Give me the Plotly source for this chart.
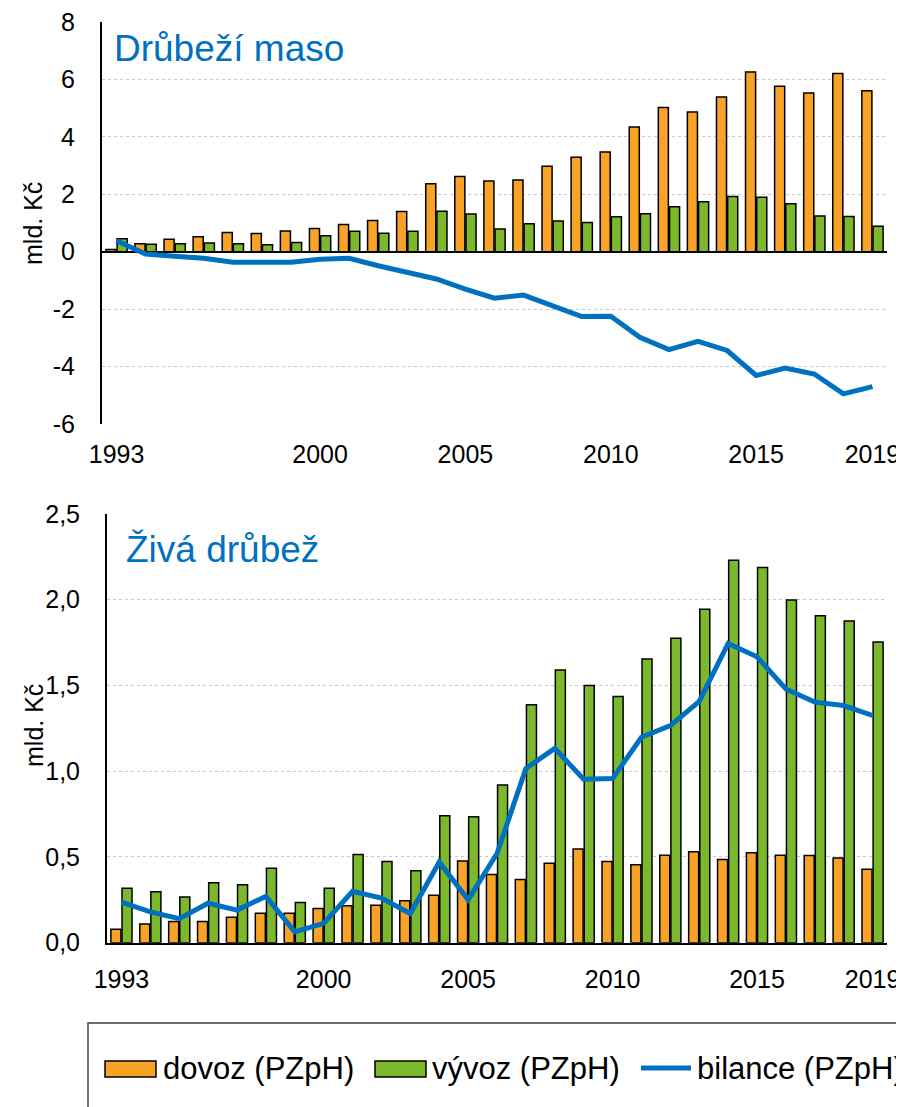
import plotly.graph_objects as go

# ---------------- data ----------------
years = ["1993", "1994", "1995", "1996", "1997", "1998", "1999", "2000", "2001",
         "2002", "2003", "2004", "2005", "2006", "2007", "2008", "2009", "2010",
         "2011", "2012", "2013", "2014", "2015", "2016", "2017", "2018", "2019"]

maso_dovoz = [0.08, 0.28, 0.43, 0.52, 0.67, 0.63, 0.72, 0.81, 0.95, 1.09, 1.40, 2.37, 2.62,
              2.46, 2.50, 2.98, 3.29, 3.47, 4.34, 5.02, 4.87, 5.39, 6.26, 5.76, 5.53, 6.21, 5.61]
maso_vyvoz = [0.45, 0.26, 0.28, 0.30, 0.28, 0.24, 0.32, 0.56, 0.71, 0.64, 0.71, 1.41, 1.31,
              0.79, 0.97, 1.07, 1.02, 1.22, 1.32, 1.57, 1.74, 1.92, 1.90, 1.67, 1.24, 1.23, 0.89]
maso_bilance = [0.38, -0.08, -0.16, -0.23, -0.37, -0.36, -0.37, -0.26, -0.23, -0.49, -0.72, -0.95, -1.30,
                -1.62, -1.51, -1.88, -2.26, -2.25, -2.98, -3.41, -3.12, -3.44, -4.31, -4.05, -4.26, -4.95, -4.70]

ziva_dovoz = [0.078, 0.109, 0.123, 0.123, 0.149, 0.172, 0.172, 0.200, 0.215, 0.219, 0.244, 0.276, 0.477,
              0.397, 0.369, 0.463, 0.547, 0.473, 0.455, 0.510, 0.531, 0.485, 0.524, 0.510, 0.508, 0.494, 0.428]
ziva_vyvoz = [0.318, 0.297, 0.266, 0.350, 0.338, 0.434, 0.234, 0.317, 0.514, 0.473, 0.420, 0.740, 0.735,
              0.920, 1.387, 1.590, 1.500, 1.436, 1.655, 1.776, 1.944, 2.231, 2.188, 1.999, 1.907, 1.876, 1.753]
ziva_bilance = [0.236, 0.180, 0.140, 0.230, 0.190, 0.270, 0.063, 0.113, 0.300, 0.260, 0.170, 0.470, 0.250,
                0.520, 1.016, 1.133, 0.953, 0.957, 1.198, 1.266, 1.407, 1.745, 1.667, 1.480, 1.403, 1.383, 1.325]

x_tickvals = ["1993", "2000", "2005", "2010", "2015", "2019"]
top_tickvals = [-6, -4, -2, 0, 2, 4, 6, 8]
top_ticktext = ["-6", "-4", "-2", "0", "2", "4", "6", "8"]
bot_tickvals = [0, 0.5, 1.0, 1.5, 2.0, 2.5]
bot_ticktext = ["0,0", "0,5", "1,0", "1,5", "2,0", "2,5"]

series_names = ["dovoz (PZpH)", "vývoz (PZpH)", "bilance (PZpH)"]
titles = ["Drůbeží maso", "Živá drůbež"]
y_title = "mld. Kč"

# ---------------- style ----------------
W, H = 904, 1107
OFF = 8  # page body margin offset in the browser
ORANGE = "#F9A228"
GREEN = "#7BB82C"
BLUE = "#0070C0"
FONT = "Liberation Sans"
GRID = "#C8C8C8"


def px(x):
    return (x - OFF) / W


def py(y):
    return 1 - (y - OFF) / H


fig = go.Figure()

for xa, ya, dov, vyv, bil in [("x", "y", maso_dovoz, maso_vyvoz, maso_bilance),
                              ("x2", "y2", ziva_dovoz, ziva_vyvoz, ziva_bilance)]:
    fig.add_trace(go.Bar(x=years, y=dov, name=series_names[0], xaxis=xa, yaxis=ya,
                         marker=dict(color=ORANGE, line=dict(color="black", width=1.5)),
                         showlegend=False))
    fig.add_trace(go.Bar(x=years, y=vyv, name=series_names[1], xaxis=xa, yaxis=ya,
                         marker=dict(color=GREEN, line=dict(color="black", width=1.5)),
                         showlegend=False))
    fig.add_trace(go.Scatter(x=years, y=bil, name=series_names[2], xaxis=xa, yaxis=ya,
                             mode="lines", line=dict(color=BLUE, width=5),
                             showlegend=False))

tickfont = dict(family=FONT, size=25, color="black")

common_x = dict(type="category", tickmode="array", tickvals=x_tickvals, ticktext=x_tickvals,
                showgrid=False, ticks="", tickfont=tickfont, ticklabelstandoff=13,
                ticklabeloverflow="allow",
                range=[-0.5, len(years) - 0.5], fixedrange=True, automargin=False)

common_y = dict(showgrid=True, gridcolor=GRID, gridwidth=1, griddash="3px,3px",
                showline=True, linecolor="black", linewidth=2,
                ticks="", tickfont=tickfont, ticklabelstandoff=20, automargin=False,
                ticklabeloverflow="allow",
                tickmode="array", fixedrange=True)

fig.update_layout(
    width=W, height=H, autosize=False,
    margin=dict(l=0, r=0, t=0, b=0, pad=0),
    paper_bgcolor="white", plot_bgcolor="white",
    barmode="group", bargap=0.23, bargroupgap=0.1,
    font=dict(family=FONT, color="black"),
    xaxis=dict(domain=[px(102), px(887)], anchor="y", showline=False, zeroline=False, **common_x),
    yaxis=dict(domain=[py(424), py(22)], anchor="x", range=[-6, 8],
               tickvals=top_tickvals, ticktext=top_ticktext,
               zeroline=True, zerolinecolor="black", zerolinewidth=2, **common_y),
    xaxis2=dict(domain=[px(107), px(887)], anchor="y2", showline=True, linecolor="black",
                linewidth=2, zeroline=False, **common_x),
    yaxis2=dict(domain=[py(942.7), py(514)], anchor="x2", range=[0, 2.5],
                tickvals=bot_tickvals, ticktext=bot_ticktext,
                zeroline=False, **common_y),
)

annotations = [
    dict(text=titles[0], x=px(112), y=py(49), xref="paper", yref="paper",
         xanchor="left", yanchor="middle", showarrow=False,
         font=dict(family=FONT, size=37, color=BLUE)),
    dict(text=titles[1], x=px(124), y=py(549), xref="paper", yref="paper",
         xanchor="left", yanchor="middle", showarrow=False,
         font=dict(family=FONT, size=37, color=BLUE)),
    dict(text=y_title, x=px(33), y=py(224), xref="paper", yref="paper",
         xanchor="center", yanchor="middle", showarrow=False, textangle=-90,
         font=dict(family=FONT, size=25, color="black")),
    dict(text=y_title, x=px(34), y=py(726), xref="paper", yref="paper",
         xanchor="center", yanchor="middle", showarrow=False, textangle=-90,
         font=dict(family=FONT, size=25, color="black")),
]

# legend (drawn manually to match the large swatches)
LEG_Y = 1068
leg_font = dict(family=FONT, size=31, color="black")
annotations += [
    dict(text=series_names[0], x=px(161), y=py(LEG_Y), xref="paper", yref="paper",
         xanchor="left", yanchor="middle", showarrow=False, font=leg_font),
    dict(text=series_names[1], x=px(430), y=py(LEG_Y), xref="paper", yref="paper",
         xanchor="left", yanchor="middle", showarrow=False, font=leg_font),
    dict(text=series_names[2], x=px(695), y=py(LEG_Y), xref="paper", yref="paper",
         xanchor="left", yanchor="middle", showarrow=False, font=leg_font),
]

shapes = [
    dict(type="rect", xref="paper", yref="paper", x0=px(88), x1=px(930), y0=py(1023), y1=py(1130),
         line=dict(color="#404040", width=1.5), fillcolor="rgba(0,0,0,0)", layer="above"),
    dict(type="rect", xref="paper", yref="paper", x0=px(105), x1=px(156), y0=py(1061), y1=py(1077),
         line=dict(color="black", width=1.5), fillcolor=ORANGE),
    dict(type="rect", xref="paper", yref="paper", x0=px(375), x1=px(426), y0=py(1061), y1=py(1077),
         line=dict(color="black", width=1.5), fillcolor=GREEN),
    dict(type="line", xref="paper", yref="paper", x0=px(641), x1=px(691), y0=py(1068), y1=py(1068),
         line=dict(color=BLUE, width=5)),
]

fig.update_layout(annotations=annotations, shapes=shapes)

fig.write_html("out.html")
